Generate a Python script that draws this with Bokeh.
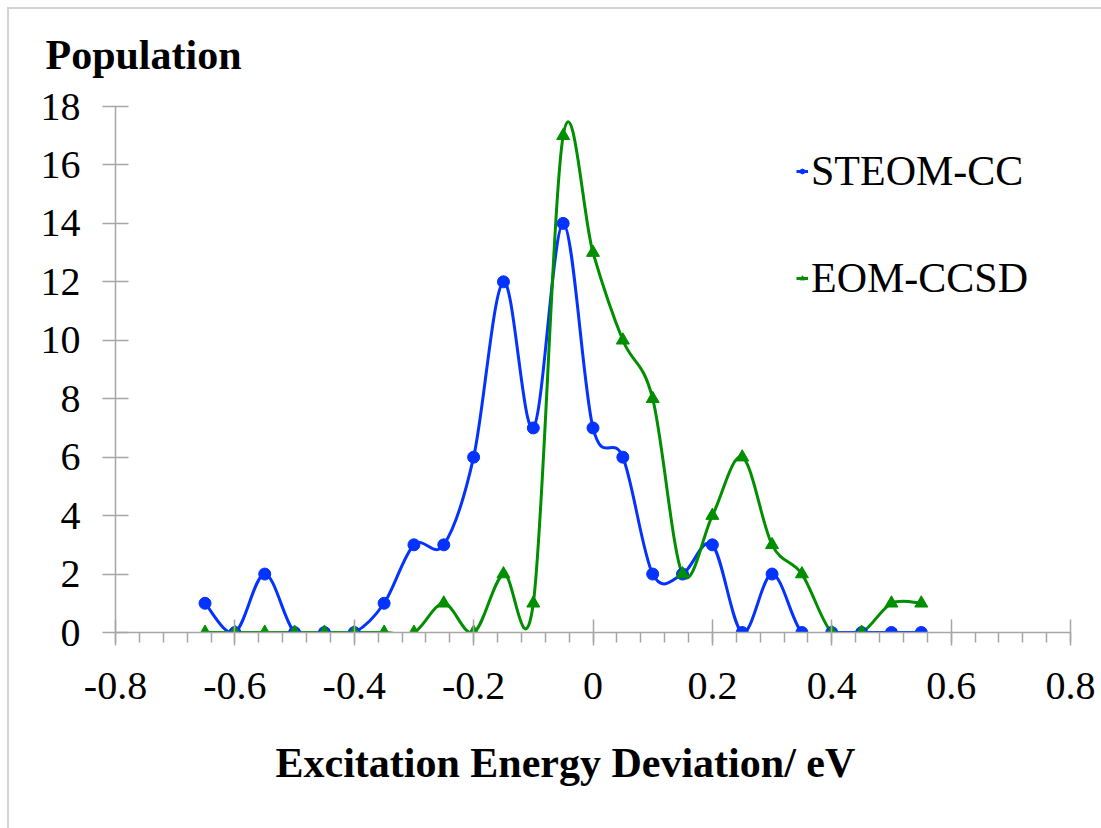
import numpy as np
from bokeh.plotting import figure
from bokeh.models import (FixedTicker, CustomJSTickFormatter, Legend,
                          LegendItem, Range1d, Title)
from bokeh.embed import file_html
from bokeh.resources import INLINE

# Excitation energy deviation bins (eV)
deviation = [-0.65, -0.60, -0.55, -0.50, -0.45, -0.40, -0.35, -0.30, -0.25,
             -0.20, -0.15, -0.10, -0.05, 0.00, 0.05, 0.10, 0.15, 0.20, 0.25,
             0.30, 0.35, 0.40, 0.45, 0.50, 0.55]

# Population per bin for each method
steom_cc = [1, 0, 2, 0, 0, 0, 1, 3, 3, 6, 12, 7, 14, 7, 6, 2, 2, 3, 0, 2,
            0, 0, 0, 0, 0]
eom_ccsd = [0, 0, 0, 0, 0, 0, 0, 0, 1, 0, 2, 1, 17, 13, 10, 8, 2, 4, 6, 3,
            2, 0, 0, 1, 1]

x_ticks = [-0.8, -0.6, -0.4, -0.2, 0.0, 0.2, 0.4, 0.6, 0.8]
y_ticks = [0, 2, 4, 6, 8, 10, 12, 14, 16, 18]

FONT = "Liberation Serif"
BLUE = "#0433FF"
GREEN = "#008F00"
AXIS = "#A6A6A6"
EDGE = "#D3D3D3"


def smooth_segments(xs, ys):
    """Cubic Bezier segments through the points (Catmull-Rom style)."""
    x = np.asarray(xs, float)
    y = np.asarray(ys, float)
    xp = np.concatenate([[x[0]], x, [x[-1]]])
    yp = np.concatenate([[y[0]], y, [y[-1]]])
    n = len(x) - 1
    seg = dict(x0=[], y0=[], x1=[], y1=[], cx0=[], cy0=[], cx1=[], cy1=[])
    for i in range(n):
        p0x, p0y = xp[i], yp[i]
        p1x, p1y = xp[i + 1], yp[i + 1]
        p2x, p2y = xp[i + 2], yp[i + 2]
        p3x, p3y = xp[i + 3], yp[i + 3]
        seg["x0"].append(p1x); seg["y0"].append(p1y)
        seg["x1"].append(p2x); seg["y1"].append(p2y)
        seg["cx0"].append(p1x + (p2x - p0x) / 6)
        seg["cy0"].append(p1y + (p2y - p0y) / 6)
        seg["cx1"].append(p2x - (p3x - p1x) / 6)
        seg["cy1"].append(p2y - (p3y - p1y) / 6)
    return seg


# Thin chart-area edge along the top and left, drawn as the page background
edge_bg = (f"linear-gradient({EDGE},{EDGE}) 7px 7px / 1094px 2px no-repeat, "
           f"linear-gradient({EDGE},{EDGE}) 7px 7px / 2px 821px no-repeat, "
           "white")

p = figure(width=1101, height=828, output_backend="svg", toolbar_location=None,
           x_range=Range1d(-0.8, 0.8), y_range=Range1d(0, 18),
           min_border_left=115, min_border_right=31, min_border_top=106,
           min_border_bottom=196,
           styles={"background": edge_bg})
p.outline_line_color = None
p.xgrid.visible = False
p.ygrid.visible = False
p.background_fill_color = "white"
p.border_fill_alpha = 0

# Y-axis title sits above the plot, left-aligned
p.title.text = "Population"
p.title.align = "left"
p.title.offset = -70
p.title.standoff = 57
p.title.text_font = FONT
p.title.text_font_size = "42px"
p.title.text_font_style = "bold"
p.title.text_color = "black"

# Axes
minor = [round(v, 2) for v in np.arange(-0.8, 0.8001, 0.04)]
p.xaxis.ticker = FixedTicker(ticks=x_ticks, minor_ticks=minor)
p.yaxis.ticker = FixedTicker(ticks=y_ticks)
p.xaxis.formatter = CustomJSTickFormatter(
    code="return (Math.round(tick * 10) / 10).toString();")
for ax in (p.xaxis, p.yaxis):
    ax.axis_line_color = AXIS
    ax.axis_line_width = 1.5
    ax.major_tick_line_color = AXIS
    ax.major_tick_line_width = 1.5
    ax.major_tick_in = 13
    ax.major_tick_out = 13
    ax.major_label_text_font = FONT
    ax.major_label_text_font_size = "40px"
    ax.major_label_text_color = "black"
p.xaxis.minor_tick_line_color = AXIS
p.xaxis.minor_tick_line_width = 1.5
p.xaxis.minor_tick_in = 0
p.xaxis.minor_tick_out = 10
p.yaxis.minor_tick_line_color = None
p.xaxis.major_label_standoff = 27
p.yaxis.major_label_standoff = 22

# X-axis title below the tick labels
xtitle = Title(text="Excitation Energy Deviation/ eV", align="left",
               offset=160, standoff=72, text_font=FONT,
               text_font_size="42px", text_font_style="bold",
               text_color="black")
p.add_layout(xtitle, "below")

# Smoothed series lines
sb = smooth_segments(deviation, steom_cc)
sg = smooth_segments(deviation, eom_ccsd)
p.bezier(line_color=BLUE, line_width=3, **sb)
p.bezier(line_color=GREEN, line_width=3, **sg)

# Data markers
p.scatter(deviation, steom_cc, marker="circle", size=12,
          fill_color=BLUE, line_color=BLUE)
p.scatter(deviation, eom_ccsd, marker="triangle", size=13,
          fill_color=GREEN, line_color=GREEN)

# Legend swatches (not drawn inside the plot area)
nan = [np.nan]
lb = p.line(nan, nan, line_color=BLUE, line_width=3)
mb = p.scatter(nan, nan, marker="circle", size=9, fill_color=BLUE, line_color=BLUE)
lg = p.line(nan, nan, line_color=GREEN, line_width=3)
mg = p.scatter(nan, nan, marker="triangle", size=10, fill_color=GREEN, line_color=GREEN)
legend = Legend(items=[LegendItem(label="STEOM-CC", renderers=[lb, mb]),
                       LegendItem(label="EOM-CCSD", renderers=[lg, mg])],
                location=(681, 329), orientation="vertical",
                label_text_font=FONT, label_text_font_size="42px",
                label_text_color="black",
                glyph_width=12, glyph_height=50, label_height=50,
                label_standoff=3, spacing=57, padding=0, margin=0,
                border_line_color=None, background_fill_alpha=0)
p.add_layout(legend)

open("out.html", "w").write(file_html(p, INLINE))
